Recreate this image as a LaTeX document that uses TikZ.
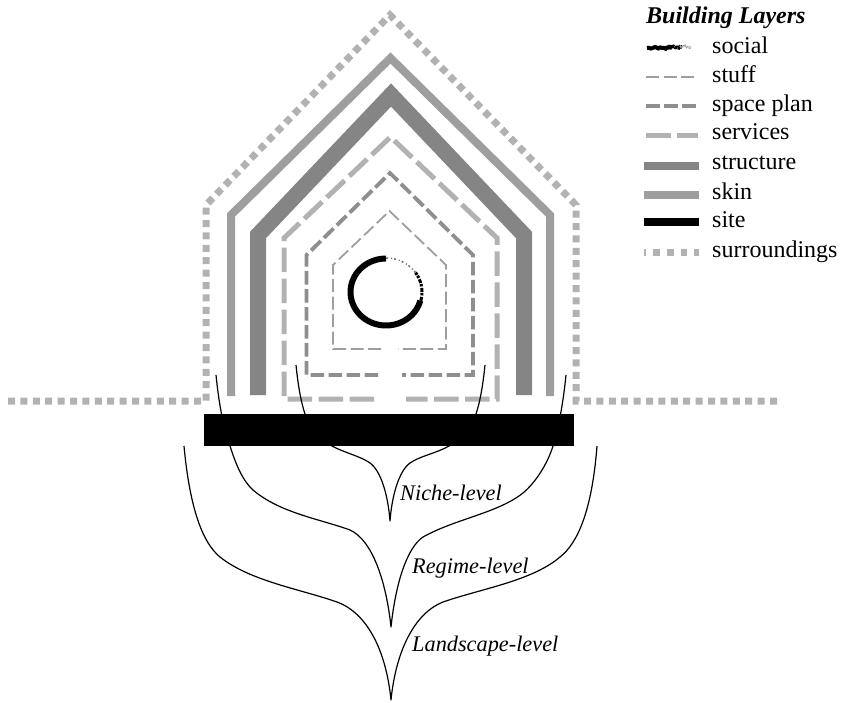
\documentclass[tikz,border=0pt]{standalone}
\usepackage{fontspec}
\setmainfont{Liberation Serif}
\usetikzlibrary{decorations.pathmorphing}
\definecolor{lightlayer}{gray}{0.70}
\definecolor{midlayer}{gray}{0.62}
\definecolor{darklayer}{gray}{0.52}
\tikzset{
	stuff/.style={draw=midlayer,line width=1.8pt,dash pattern=on 13pt off 4.5pt},
	spaceplan/.style={draw=midlayer!90!black,line width=3.8pt,dash pattern=on 13.5pt off 4.5pt},
	services/.style={draw=lightlayer,line width=5pt,dash pattern=on 24.5pt off 6.5pt},
	structure/.style={draw=darklayer,line width=16pt},
	skin/.style={draw=midlayer,line width=8pt},
	surroundings/.style={draw=lightlayer,line width=7pt,dash pattern=on 7pt off 5.4pt},
	socialink/.style={draw=black,decorate,decoration={random steps,segment length=1.8pt,amplitude=1.1pt}},
	levelcurve/.style={draw=black,line width=1.2pt,line join=round},
	legendtext/.style={anchor=base west,inner sep=0pt,font=\fontsize{24}{24}\selectfont},
	leveltext/.style={anchor=base west,inner sep=0pt,font=\fontsize{22.3}{22.3}\selectfont\itshape}
}
\begin{document}
\begin{tikzpicture}[x=1pt,y=-1pt]
\useasboundingbox (0,0) rectangle (841,702);
\pgfmathsetseed{7}
% the layers of the house
\draw[surroundings] (8,401) -- (206,401) -- (206,205) -- (390,15) -- (576,205) -- (576,401) -- (778,401);
\draw[skin] (231,396) -- (231,215) -- (390.5,58) -- (550,215) -- (550,396);
\draw[structure] (258,395) -- (258,235) -- (391,95) -- (524,235) -- (524,395);
\draw[services] (374,399) -- (284,399) -- (284,238) -- (390.5,137) -- (497,238) -- (497,399) -- (406,399);
\draw[spaceplan] (378,375) -- (306.5,375) -- (306.5,255) -- (390,173) -- (473,255) -- (473,375) -- (402,375);
\draw[stuff] (381,349) -- (333,349) -- (333,265) -- (389.5,211) -- (446,265) -- (446,349) -- (398,349);
% social ring
\draw[socialink,line width=6pt] plot[domain=90:345,samples=60] ({386+35.5*cos(\x)},{292-33.5*sin(\x)});
\draw[socialink,line width=3pt,dash pattern=on 4pt off 1.5pt on 2.5pt off 1pt] plot[domain=-15:35,samples=14] ({386+36*cos(\x)},{292-34*sin(\x)});
\draw[socialink,draw=black!55,line width=1.5pt,dash pattern=on 2pt off 2pt on 1pt off 3pt] plot[domain=35:90,samples=14] ({386+36*cos(\x)},{292-34*sin(\x)});
% levels
\draw[levelcurve] (184,446) .. controls (190,510) and (203,543) .. (220,557) .. controls (250,581) and (300,589) .. (337,602) .. controls (367,613) and (386,650) .. (391,700) .. controls (396,650) and (415,613) .. (443,602) .. controls (480,589) and (532,581) .. (560,557) .. controls (578,543) and (592,510) .. (597,446);
\draw[levelcurve] (216,375) .. controls (219,405) and (224,430) .. (230,446) .. controls (236,465) and (243,481) .. (253,490) .. controls (280,513) and (320,519) .. (350,530) .. controls (372,540) and (386,580) .. (391,627) .. controls (396,580) and (408,547) .. (423,537) .. controls (455,519) and (498,513) .. (523,493) .. controls (535,483) and (547,465) .. (553,446) .. controls (558,430) and (563,405) .. (566,375);
\draw[levelcurve] (296,365) .. controls (298,385) and (301,402) .. (305,414) .. controls (312,432) and (322,440) .. (332,446) .. controls (345,453) and (360,456) .. (370,463) .. controls (381,471) and (388,495) .. (390,521) .. controls (392,495) and (399,471) .. (410,463) .. controls (420,456) and (437,453) .. (449,446) .. controls (460,440) and (470,430) .. (476,414) .. controls (480,402) and (483,385) .. (485,365);
\fill[black] (204,414) rectangle (574,446);
\node[leveltext] (nichelabel) at (400,500) {Niche-level};
\node[leveltext] (regimelabel) at (412,573) {Regime-level};
\node[leveltext] (landscapelabel) at (412,651) {Landscape-level};
% legend
\node[legendtext,font=\fontsize{24}{24}\selectfont\bfseries\itshape] (legendtitle) at (646,23) {Building Layers};
\draw[socialink,line width=4pt] (647,48) -- (672,48);
\draw[socialink,line width=3.5pt,dash pattern=on 3pt off 0.6pt] (668,47.5) -- (682,47);
\draw[socialink,draw=black!35,line width=2.5pt,dash pattern=on 1.5pt off 1pt] (680,47) -- (691,46.5);
\node[legendtext] (sociallabel) at (712,53) {social};
\draw[stuff] (646,77) -- (698,77);
\node[legendtext] (stufflabel) at (712,82) {stuff};
\draw[spaceplan] (646,106) -- (698,106);
\node[legendtext] (spaceplanlabel) at (712,111) {space plan};
\draw[services] (646,135) -- (698,135);
\node[legendtext] (serviceslabel) at (712,139.5) {services};
\draw[structure,line width=8.5pt] (644,166) -- (699,166);
\node[legendtext] (structurelabel) at (712,169) {structure};
\draw[skin] (644,195) -- (699,195);
\node[legendtext] (skinlabel) at (712,199) {skin};
\draw[black,line width=8pt] (644,222) -- (699,222);
\node[legendtext] (sitelabel) at (712,227.5) {site};
\draw[surroundings,dash pattern=on 6.7pt off 7pt,dash phase=4.4pt] (644,252) -- (699,252);
\node[legendtext] (surroundingslabel) at (712,257) {surroundings};
\end{tikzpicture}
\end{document}
